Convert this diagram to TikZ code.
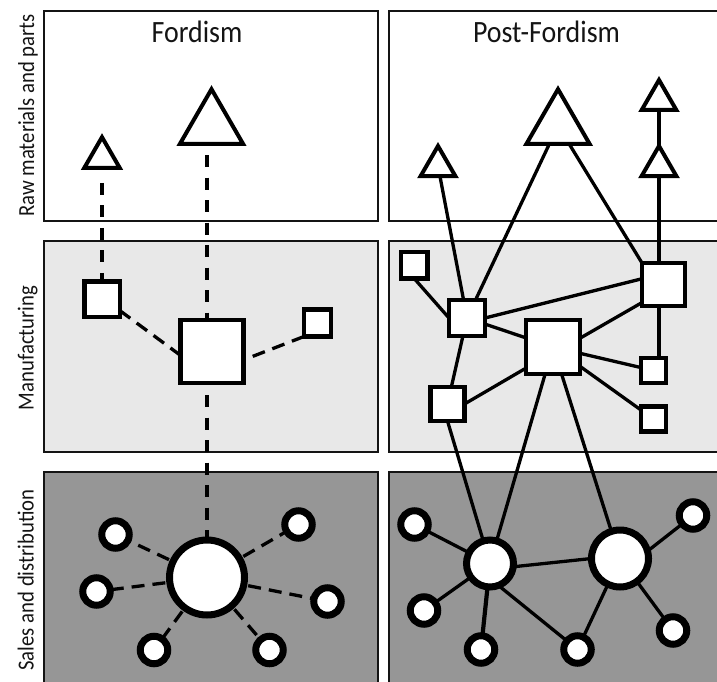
\documentclass[tikz,border=0pt]{standalone}
\usepackage{fontspec}
\setmainfont{Carlito}[FakeStretch=0.9]
\usetikzlibrary{shapes.geometric}
\pgfdeclarelayer{panels}
\pgfdeclarelayer{edges}
\pgfsetlayers{panels,edges,main}
\definecolor{panelmid}{RGB}{232,232,232}
\definecolor{paneldark}{RGB}{150,150,150}
\definecolor{ink}{RGB}{20,20,20}
\begin{document}
\begin{tikzpicture}[x=1pt,y=-1pt,
  panel/.style={draw=ink, line width=2pt},
  title/.style={font=\fontsize{31}{31}\selectfont, text=ink, anchor=base, inner sep=0pt},
  rowlabel/.style={font=\fontsize{23}{23}\selectfont, text=ink, rotate=90, anchor=base, inner sep=0pt},
  tri/.style={regular polygon, regular polygon sides=3, draw=black, fill=white, line width=4pt, inner sep=0pt, outer sep=0pt, minimum size=#1},
  sq/.style={rectangle, draw=black, fill=white, line width=4.5pt, inner sep=0pt, outer sep=0pt, minimum size=#1},
  ring/.style={circle, draw=black, fill=white, line width=7pt, inner sep=0pt, outer sep=0pt, minimum size=#1},
  fdash/.style={line width=4pt, dash pattern=on 12pt off 10.5pt},
  fdashthin/.style={line width=3.3pt, dash pattern=on 13pt off 8pt},
  link/.style={line width=3.3pt},
  linkv/.style={line width=4.2pt}
]
\useasboundingbox (0,0) rectangle (717,682);

% panels
\begin{pgfonlayer}{panels}
\draw[panel] (44,11) rectangle (378,221);
\draw[panel] (389,11) rectangle (730,221);
\draw[panel, fill=panelmid] (44,241) rectangle (378,452);
\draw[panel, fill=panelmid] (389,241) rectangle (730,452);
\draw[panel, fill=paneldark] (44,472) rectangle (378,695);
\draw[panel, fill=paneldark] (389,472) rectangle (730,695);
\end{pgfonlayer}

% labels
\node[title] (tF) at (197,43) {Fordism};
\node[title] (tP) at (546.5,43) {Post-Fordism};
\node[rowlabel] (lR) at (34,115.5) {Raw materials and parts};
\node[rowlabel] (lM) at (33.5,348) {Manufacturing};
\node[rowlabel] (lS) at (33.5,580) {Sales and distribution};

% ---------- Fordism ----------
\node[tri=41pt] (fT1) at (102,157.7) {};
\node[tri=73pt] (fT2) at (211.5,125.7) {};
\node[sq=35.5pt] (fS1) at (102,299) {};
\node[sq=63pt] (fS2) at (212,351.5) {};
\node[sq=27pt] (fS3) at (317.5,323) {};
\node[ring=75pt] (fC0) at (207,577.5) {};
\node[ring=27.5pt] (fC1) at (115.5,534.5) {};
\node[ring=27.5pt] (fC2) at (96.5,591.5) {};
\node[ring=27.5pt] (fC3) at (154,650) {};
\node[ring=27.5pt] (fC4) at (269.5,650) {};
\node[ring=27.5pt] (fC5) at (327.5,601.5) {};
\node[ring=27.5pt] (fC6) at (298.5,524.5) {};

% ---------- Post-Fordism ----------
\node[tri=40pt] (pT1) at (438,166) {};
\node[tri=73pt] (pT2) at (558,125.7) {};
\node[tri=40pt] (pT3) at (659,100) {};
\node[tri=40pt] (pT4) at (659,166) {};
\node[sq=26.5pt] (pS0) at (414,265) {};
\node[sq=36pt] (pA) at (467,318) {};
\node[sq=34pt] (pB) at (447.5,404) {};
\node[sq=54pt] (pC) at (553,347) {};
\node[sq=43pt] (pD) at (663.5,284.5) {};
\node[sq=25pt] (pE) at (653.5,370.5) {};
\node[sq=25pt] (pF) at (653.5,419) {};
\node[ring=47pt] (pG1) at (490,563.5) {};
\node[ring=57pt] (pG2) at (620,558.5) {};
\node[ring=27.5pt] (ps1) at (414.5,524.5) {};
\node[ring=27.5pt] (ps2) at (424,610.5) {};
\node[ring=27.5pt] (ps3) at (481,649.5) {};
\node[ring=27.5pt] (ps4) at (577.5,649.5) {};
\node[ring=27.5pt] (ps5) at (673,630.5) {};
\node[ring=27.5pt] (ps6) at (693,515.5) {};

% ---------- edges ----------
\begin{pgfonlayer}{edges}
% Fordism
\draw[fdash, dash phase=12pt, shorten <=4.5pt] (fT1.south) -- (fS1.center);
\draw[fdash, dash phase=15.7pt] (fT2.center -| fC0.center) -- (fS2.center -| fC0.center);
\draw[fdash, dash phase=1.5pt] (fS2.center -| fC0.center) -- (fC0.center);
\draw[fdashthin] (fS1.-33) -- (fS2.187);
\draw[fdashthin] (fS3.south west) -- (fS2.-15);
\draw[fdashthin] (fC0.center) -- (fC1.center);
\draw[fdashthin] (fC0.center) -- (fC2.center);
\draw[fdashthin] (fC0.center) -- (fC3.center);
\draw[fdashthin] (fC0.center) -- (fC4.center);
\draw[fdashthin] (fC0.center) -- (fC5.center);
\draw[fdashthin] (fC0.center) -- (fC6.center);
% Post-Fordism
\draw[link] (pT1.center) -- (pA.center);
\draw[link] (pT2.center) -- (pA.center);
\draw[link] (pT2.center) -- (pD.north west);
\draw[linkv] (pT3.center) -- (pT3.center |- pE.center);
\draw[link] (pS0.south) -- (pA.west);
\draw[link] (pA.east) -- (pD.165);
\draw[link] (pA.center) -- (pC.center);
\draw[link] (pA.center) -- (pB.center);
\draw[link] (pB.east) -- (pC.218);
\draw[link] (pC.18) -- (pD.220);
\draw[link] (pC.center) -- (pE.center);
\draw[link] (pC.center) -- (pF.center);
\draw[link] (pB.south) -- (pG1.center);
\draw[link] (pC.center) -- (pG1.center);
\draw[link] (pC.center) -- (pG2.center);
\draw[link] (pG1.center) -- (ps1.center);
\draw[link] (pG1.center) -- (ps2.center);
\draw[linkv] (pG1.center) -- (ps3.center);
\draw[link] (pG1.-69) -- (ps4.center);
\draw[link] (pG1.-8) -- (pG2.west);
\draw[link] (pG2.center) -- (ps4.center);
\draw[link] (pG2.center) -- (ps5.center);
\draw[link] (pG2.15) -- (ps6.center);
\end{pgfonlayer}
\end{tikzpicture}
\end{document}
